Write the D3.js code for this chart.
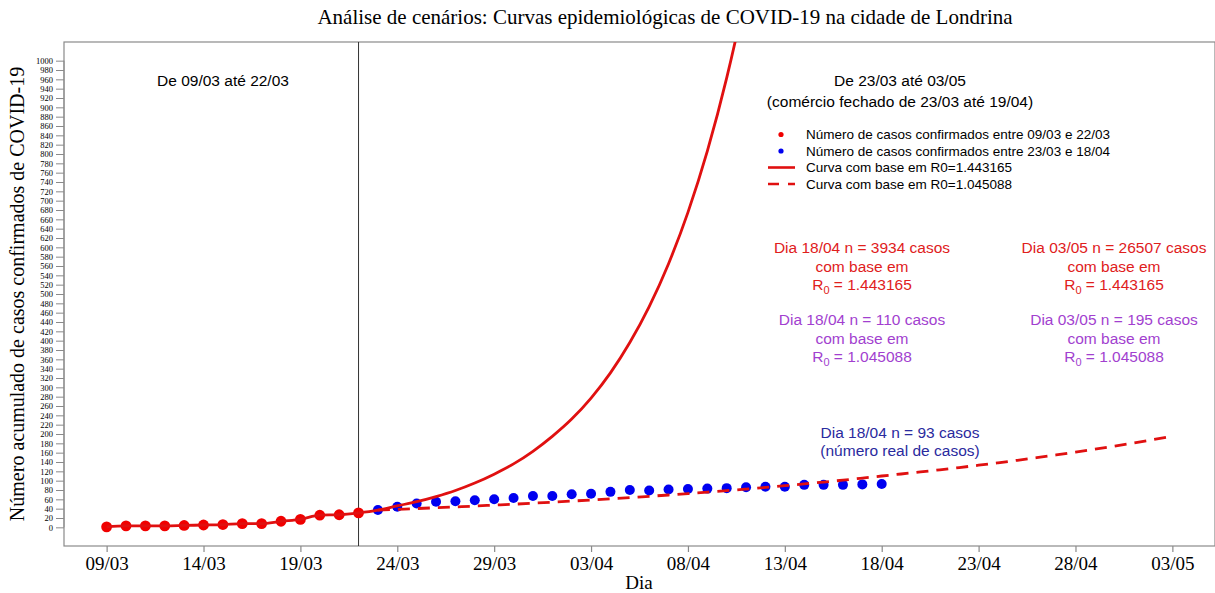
<!DOCTYPE html>
<html><head><meta charset="utf-8">
<script src="https://cdn.jsdelivr.net/npm/d3@7"></script>
<style>body{margin:0;background:#fff}svg{display:block}</style>
</head><body>
<svg id="chart" width="1215" height="593"></svg>
<script>
// ---- data ----
const startDate = "2020-03-09";
const xTickLabels = ["09/03","14/03","19/03","24/03","29/03","03/04","08/04","13/04","18/04","23/04","28/04","03/05"];
const redDates = ["09/03","10/03","11/03","12/03","13/03","14/03","15/03","16/03","17/03","18/03","19/03","20/03","21/03","22/03"];
const redCases = [1,3,3,3,4,5,6,8,8,13,17,26,27,31];
const blueDates = ["23/03","24/03","25/03","26/03","27/03","28/03","29/03","30/03","31/03","01/04","02/04","03/04","04/04","05/04","06/04","07/04","08/04","09/04","10/04","11/04","12/04","13/04","14/04","15/04","16/04","17/04","18/04"];
const blueCases = [37,44,51,55,56,58,60,63,67,67,71,72,76,80,79,81,82,83,84,86,87,87,91,91,91,92,93];
// model curve R0=1.443165, daily values from 09/03
const curveHighStart = "09/03";
const curveHigh = [1,3,3,3,4,5,6,8,8,13,17,26,27,31,37,46,55,66,79,95,114,136,163,195,232,277,331,396,473,565,675,806,963,1150,1374];
// model curve R0=1.045088, daily values from 23/03
const curveLowStart = "23/03";
const curveLow = [37,38.6,40.2,42.0,43.8,45.6,47.6,49.6,51.7,53.9,56.2,58.6,61.1,63.7,66.5,69.3,72.3,75.4,78.6,82.0,85.5,89.2,93.0,97.0,101.1,105.5,110,114.3,118.7,123.3,128.1,133.1,138.3,143.7,149.3,155.1,161.2,167.5,174,180.8,187.8,195];
const yTickValues = d3.range(0, 1001, 20);

// ---- helpers ----
const t0 = new Date(startDate + "T00:00:00");
function dayIndex(s){ const [d,m] = s.split("/").map(Number); const dt = new Date(2020, m-1, d); return Math.round((dt - t0)/86400000); }

const svg = d3.select("#chart");
const L = 64, R = 1215, T = 42, B = 546;
const x = d3.scaleLinear().domain([-2.2, 57.2]).range([L, R]);
const y = d3.scaleLinear().domain([-40, 1040]).range([B, T]);
const serif = "'Liberation Serif','Times New Roman',serif";
const sans = "'Liberation Sans',Arial,sans-serif";
const lineRed = "#e01010";

svg.append("defs").append("clipPath").attr("id","clip").append("rect")
  .attr("x", L).attr("y", T).attr("width", R-L).attr("height", B-T);

// title
svg.append("text").attr("x", 665).attr("y", 24).attr("text-anchor","middle")
  .style("font-family", serif).style("font-size","21px").text("Análise de cenários: Curvas epidemiológicas de COVID-19 na cidade de Londrina");

// box
svg.append("rect").attr("x", L).attr("y", T).attr("width", R-L).attr("height", B-T)
  .attr("fill","none").attr("stroke","#8a8a8a").attr("stroke-width",1.2);

// x axis
const xAxis = d3.axisBottom(x).tickValues(xTickLabels.map(dayIndex))
  .tickFormat((d,i)=>xTickLabels[i]).tickSize(6).tickPadding(5);
const gx = svg.append("g").attr("transform",`translate(0,${B})`).call(xAxis);
gx.select(".domain").remove();
gx.selectAll("line").attr("stroke","#8a8a8a").attr("stroke-width",1.2);
gx.selectAll("text").style("font-family", serif).style("font-size","19px").attr("fill","#000");

// y axis
const yAxis = d3.axisLeft(y).tickValues(yTickValues).tickSize(8).tickPadding(3).tickFormat(d3.format("d"));
const gy = svg.append("g").attr("transform",`translate(${L},0)`).call(yAxis);
gy.select(".domain").attr("stroke","#8a8a8a").attr("d", `M-0,${y(0)}V${y(1000)}`);
gy.selectAll("line").attr("stroke","#8a8a8a");
gy.selectAll("text").style("font-family", serif).style("font-size","8.5px").attr("fill","#000");

// axis titles
svg.append("text").attr("x", 639).attr("y", 589).attr("text-anchor","middle")
  .style("font-family", serif).style("font-size","19px").text("Dia");
svg.append("text").attr("transform",`translate(24,${(T+B)/2}) rotate(-90)`).attr("text-anchor","middle")
  .style("font-family", serif).style("font-size","20px").text("Número acumulado de casos confirmados de COVID-19");

// vertical divider at 22/03
svg.append("line").attr("x1", x(dayIndex("22/03"))).attr("x2", x(dayIndex("22/03")))
  .attr("y1", T).attr("y2", B).attr("stroke","#333").attr("stroke-width",1);

const plot = svg.append("g").attr("clip-path","url(#clip)");

// points
plot.selectAll("circle.red").data(redCases).enter().append("circle").attr("class","red")
  .attr("cx",(d,i)=>x(dayIndex(redDates[i]))).attr("cy",d=>y(d)).attr("r",5.4).attr("fill","#f00000");
plot.selectAll("circle.blue").data(blueCases).enter().append("circle").attr("class","blue")
  .attr("cx",(d,i)=>x(dayIndex(blueDates[i]))).attr("cy",d=>y(d)).attr("r",5).attr("fill","#0000f0");

// curves
const hs = dayIndex(curveHighStart), ls = dayIndex(curveLowStart);
const line = d3.line().x(d=>x(d[0])).y(d=>y(d[1])).curve(d3.curveMonotoneX);
plot.append("path").attr("d", line(curveHigh.map((v,i)=>[hs+i, v])))
  .attr("fill","none").attr("stroke",lineRed).attr("stroke-width",2.8);
plot.append("path").attr("d", line(curveLow.map((v,i)=>[ls+i, v])))
  .attr("fill","none").attr("stroke",lineRed).attr("stroke-width",2.8).attr("stroke-dasharray","12,8");

// annotations
function txt(xp, yp, s, color, size, anchor){
  return svg.append("text").attr("x",xp).attr("y",yp).attr("text-anchor",anchor||"middle")
    .style("font-family", sans).style("font-size",(size||15.5)+"px").attr("fill",color||"#000").text(s);
}
txt(223, 86, "De 09/03 até 22/03");
txt(900, 86, "De 23/03 até 03/05");
txt(900, 107, "(comércio fechado de 23/03 até 19/04)");

// legend
const legY = [134.5, 151, 167.5, 184];
const legLabels = ["Número de casos confirmados entre 09/03 e 22/03","Número de casos confirmados entre 23/03 e 18/04","Curva com base em R0=1.443165","Curva com base em R0=1.045088"];
svg.append("circle").attr("cx",781).attr("cy",legY[0]).attr("r",2.6).attr("fill","#f00000");
svg.append("circle").attr("cx",781).attr("cy",legY[1]).attr("r",2.6).attr("fill","#0000f0");
svg.append("line").attr("x1",768).attr("x2",795).attr("y1",legY[2]).attr("y2",legY[2]).attr("stroke",lineRed).attr("stroke-width",2.6);
svg.append("line").attr("x1",768).attr("x2",795).attr("y1",legY[3]).attr("y2",legY[3]).attr("stroke",lineRed).attr("stroke-width",2.6).attr("stroke-dasharray","11,9");
legLabels.forEach((s,i)=>txt(806, legY[i]+4.5, s, "#000", 13.5, "start"));

// scenario texts
const cRed = "#e0201c", cPur = "#a23fcf", cBlue = "#2a2a9e";
function block(cx, y0, first, r0, color){
  txt(cx, y0, first, color);
  txt(cx, y0+19, "com base em", color);
  const t = svg.append("text").attr("x",cx).attr("y",y0+37).attr("text-anchor","middle")
    .style("font-family", sans).style("font-size","15.5px").attr("fill",color);
  t.append("tspan").text("R");
  t.append("tspan").attr("dy",4).style("font-size","11px").text("0");
  t.append("tspan").attr("dy",-4).text(" = " + r0);
}
block(862, 253, "Dia 18/04 n = 3934 casos", "1.443165", cRed);
block(1114, 253, "Dia 03/05 n = 26507 casos", "1.443165", cRed);
block(862, 325, "Dia 18/04 n = 110 casos", "1.045088", cPur);
block(1114, 325, "Dia 03/05 n = 195 casos", "1.045088", cPur);
txt(900, 438, "Dia 18/04 n = 93 casos", cBlue);
txt(900, 456, "(número real de casos)", cBlue);
</script>
</body></html>
